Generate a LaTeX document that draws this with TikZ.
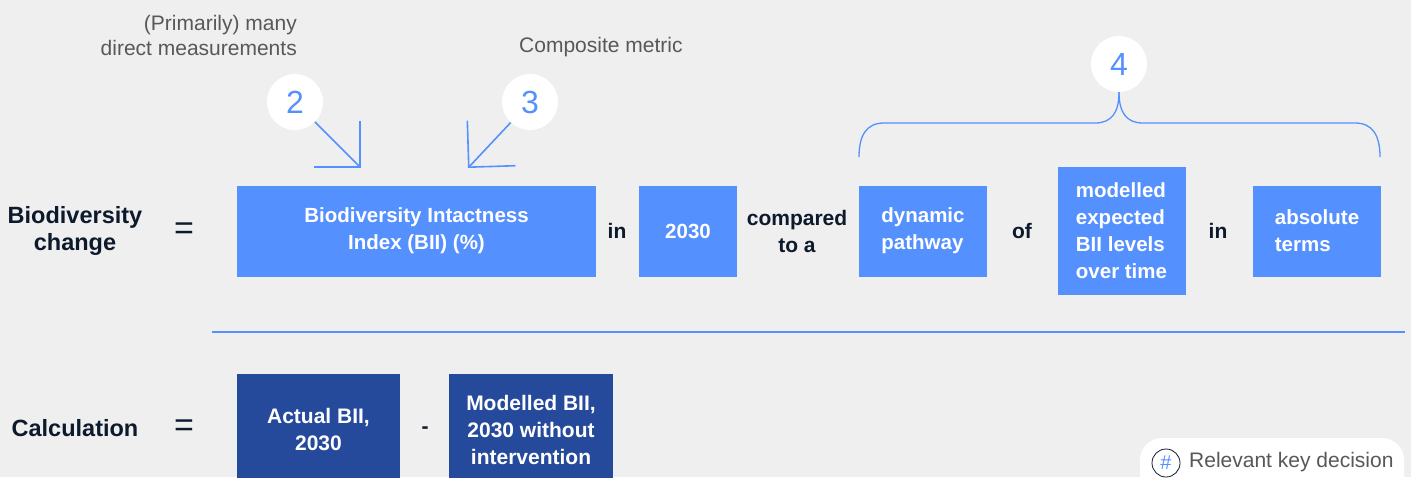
\documentclass[tikz,border=0pt]{standalone}
\usepackage{fontspec}
\setmainfont{Liberation Sans}
\usepackage{tikz}
\usetikzlibrary{arrows.meta,positioning}
\usepackage{xcolor}
\definecolor{bggray}{HTML}{EFEFEF}
\definecolor{lblue}{HTML}{5590FF}
\definecolor{dblue}{HTML}{264A9B}
\definecolor{ink}{HTML}{0C1A2C}
\definecolor{notegray}{HTML}{585858}

\begin{document}
\begin{tikzpicture}[x=1pt,y=-1pt,>={Straight Barb[length=33pt,width=66pt]},node distance=100pt,on grid,
	lbl/.style={font=\fontsize{23.5}{27}\selectfont\bfseries,text=ink,align=center,inner sep=0pt},
	eqsign/.style={font=\fontsize{34}{34}\selectfont,text=ink,inner sep=0pt},
	word/.style={font=\fontsize{21}{27}\selectfont\bfseries,text=ink,align=center,inner sep=0pt},
	box/.style={fill=lblue,text=white,font=\fontsize{20.5}{27}\selectfont\bfseries,align=center,inner sep=0pt,minimum height=91pt},
	boxl/.style={box,align=left,minimum width=128pt},
	calcbox/.style={fill=dblue,text=white,font=\fontsize{21}{27}\selectfont\bfseries,align=center,inner sep=0pt,minimum width=164pt,minimum height=112pt},
	num/.style={circle,fill=white,minimum size=56pt,inner sep=0pt,text=lblue,font=\fontsize{32}{32}\selectfont},
	note/.style={text=notegray,font=\fontsize{21}{25}\selectfont,inner sep=0pt}]
				  \useasboundingbox (0,0) rectangle (1411,477);
				  \fill[bggray] (0,0) rectangle (1411,477);

				  % first row
				  \node[lbl]     (bd)                      at (75,231)  {Biodiversity\\change};
				  \node[eqsign]  (eq1)  [right =109pt of bd]            {=};
				  \node[box,minimum width=359pt] (bii) [right =232.5pt of eq1] {Biodiversity Intactness\\Index (BII) (\%)};
				  \node[word]    (in1)  [right =200.5pt of bii]         {in};
				  \node[box,minimum width=98pt] (yr) [right =71pt of in1] {2030};
				  \node[word]    (cmp)  [right =109pt of yr]            {compared\\to a};
				  \node[boxl]    (dyn)  [right =126pt of cmp]           {dynamic\\pathway};
				  \node[word]    (of)   [right =99pt of dyn]            {of};
				  \node[boxl,minimum height=128pt] (mod) [right =99.5pt of of] {modelled\\expected\\BII levels\\over time};
				  \node[word]    (in2)  [right =96.5pt of mod]          {in};
				  \node[boxl]    (abs)  [right =99pt of in2]            {absolute\\terms};

				  % second row
				  \node[lbl]     (calc)                    at (75,428)  {Calculation};
				  \node[eqsign]  (eq2)  [right =109pt of calc]          {=};
				  \node[calcbox,minimum width=163pt] (act) at (318.5,430) {Actual BII,\\2030};
				  \node[word]    (minus) [right =106.5pt of act]        {-};
				  \node[calcbox] (mdl)  [right =106pt of minus]         {Modelled BII,\\2030 without\\intervention};

				  \draw[lblue,line width=1.2pt] (212,332) -- (1405,332);

				  % key decisions
				  \node[num]     (c2)                      at (295,102) {2};
				  \node[num]     (c3)                      at (530,102) {3};
				  \node[num]     (c4)                      at (1119,64) {4};
				  \node[note,align=right,anchor=east] (n2) at (297,35) {(Primarily) many\\direct measurements};
				  \node[note,anchor=west] (n3) at (519,47) {Composite metric};
				  \coordinate (tip2) at (361,168);
				  \coordinate (tip3) at (468,168);

				\tikzset{pointer/.style={->,draw=lblue,line width=1.6pt}}
				\tikzset{brace/.style={draw=lblue,line width=1.3pt}}
				\path (c2)     edge [pointer]    (tip2)
					  (c3)     edge [pointer]    (tip3);
				\draw[brace] (c4.south) .. controls (1119,112) and (1112,123) .. (1095,123) -- (884,123)
					  .. controls (866,123) and (859,136) .. (859,157);
				\draw[brace] (c4.south) .. controls (1119,112) and (1126,123) .. (1143,123) -- (1355,123)
					  .. controls (1373,123) and (1380,136) .. (1380,157);

				  % legend
				  \fill[white,rounded corners=22pt] (1140,438) rectangle (1404,500);
				  \node[circle,draw=ink,line width=0.8pt,minimum size=28pt,inner sep=0pt,text=lblue,font=\fontsize{20}{20}\selectfont] (hash) at (1166,463) {\#};
				  \node[note,anchor=west] (key) at (1189,462) {Relevant key decision};
			\end{tikzpicture}
\end{document}
